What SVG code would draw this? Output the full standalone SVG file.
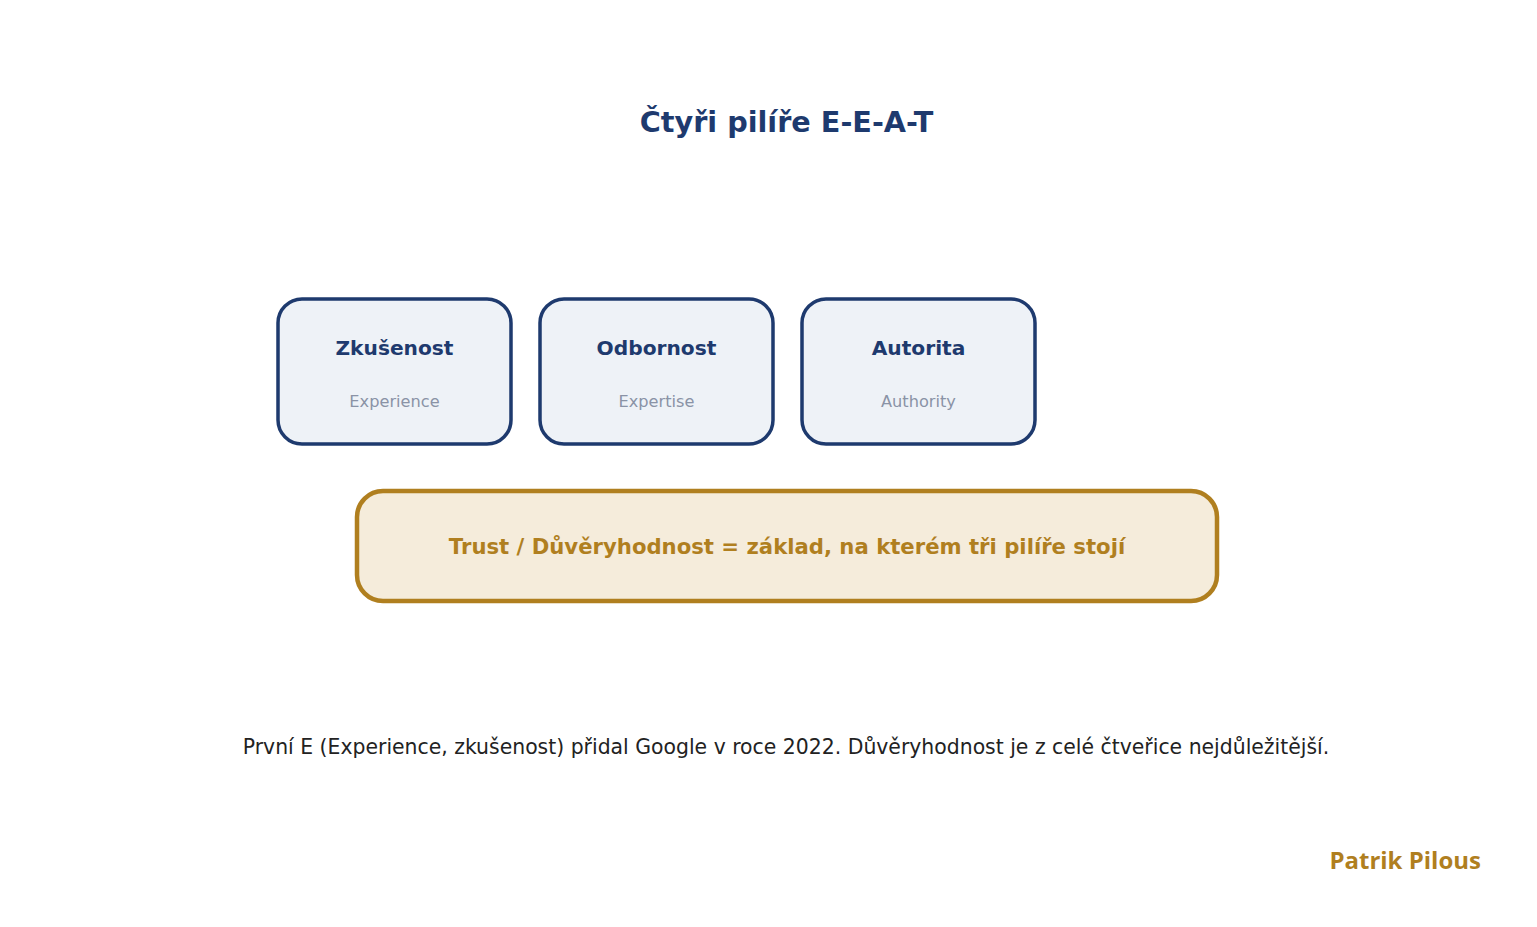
<svg xmlns="http://www.w3.org/2000/svg" width="1537" height="927" viewBox="0 0 1537 927">
<style>
.pillar{fill:#eef2f7;stroke:#1e3a6e;stroke-width:3.5}
.ptitle{font-family:"DejaVu Sans",sans-serif;font-weight:bold;font-size:20.2px;fill:#1e3a6e;text-anchor:middle}
.psub{font-family:"DejaVu Sans",sans-serif;font-size:16.2px;fill:#8a93a6;text-anchor:middle}
</style>
<rect width="1537" height="927" fill="#ffffff"/>
<text x="786.5" y="132" font-family="DejaVu Sans, sans-serif" font-weight="bold" font-size="28.7" fill="#1e3a6e" text-anchor="middle">Čtyři pilíře E-E-A-T</text>
<g id="node-zkusenost">
<rect class="pillar" x="278" y="299" width="233" height="145" rx="24"/>
<text class="ptitle" x="394.5" y="355">Zkušenost</text>
<text class="psub" x="394.5" y="407">Experience</text>
</g>
<g id="node-odbornost">
<rect class="pillar" x="540" y="299" width="233" height="145" rx="24"/>
<text class="ptitle" x="656.5" y="355">Odbornost</text>
<text class="psub" x="656.5" y="407">Expertise</text>
</g>
<g id="node-autorita">
<rect class="pillar" x="802" y="299" width="233" height="145" rx="24"/>
<text class="ptitle" x="918.5" y="355">Autorita</text>
<text class="psub" x="918.5" y="407">Authority</text>
</g>
<g id="node-trust">
<rect x="357" y="491" width="860" height="110" rx="26" fill="#f5ecdb" stroke="#b07f1f" stroke-width="4.5"/>
<text x="787" y="554" font-family="DejaVu Sans, sans-serif" font-weight="bold" font-size="21.2" fill="#b07f1f" text-anchor="middle">Trust / Důvěryhodnost = základ, na kterém tři pilíře stojí</text>
</g>
<g id="connectors"></g>
<text x="786" y="754" font-family="DejaVu Sans, sans-serif" font-size="20.4" fill="#222222" text-anchor="middle">První E (Experience, zkušenost) přidal Google v roce 2022. Důvěryhodnost je z celé čtveřice nejdůležitější.</text>
<text x="1481" y="869" font-family="'Open Sans', sans-serif" font-weight="bold" font-size="24" fill="#b07f1f" text-anchor="end">Patrik Pilous</text>
</svg>
